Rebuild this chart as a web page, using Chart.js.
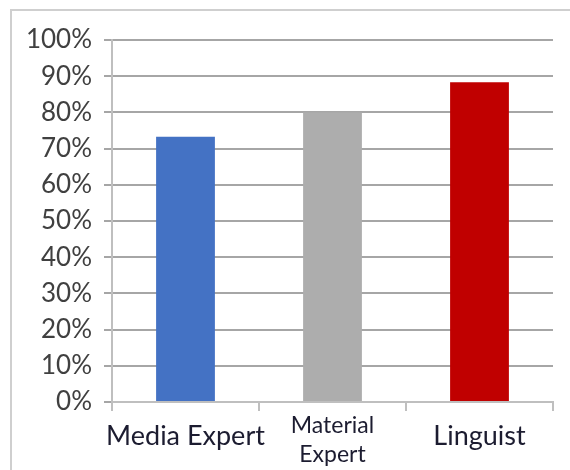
<!DOCTYPE html>
<html>
<head>
<meta charset="utf-8">
<script src="https://cdn.jsdelivr.net/npm/chart.js@4"></script>
<style>
  html, body { margin:0; padding:0; background:#fff; }
  #wrap { position:relative; width:570px; height:470px; }
</style>
</head>
<body>
<div id="wrap"><canvas id="chart" width="570" height="470"></canvas></div>
<script>
// data
var categories = ['Media Expert', ['Material', 'Expert'], 'Linguist'];
var scores = [73.3, 80, 88.3];
var barColors = ['#4472C4', '#ADADAD', '#C00000'];
var yTicks = [0, 10, 20, 30, 40, 50, 60, 70, 80, 90, 100];

// thin grey frame on top and left, as in the screenshot
var framePlugin = {
	id: 'frame',
	beforeDraw: function(chart) {
		var c = chart.ctx;
		c.save();
		c.strokeStyle = '#cfcfcf';
		c.lineWidth = 2;
		c.beginPath();
		c.moveTo(11, 470);
		c.lineTo(11, 10);
		c.lineTo(570, 10);
		c.stroke();
		c.restore();
	}
};

var ctx = document.getElementById('chart').getContext('2d');
var chart = new Chart(ctx, {
	type: 'bar',
	data: {
		labels: categories,
		datasets: [{
			data: scores,
			backgroundColor: barColors,
			borderWidth: 0,
			categoryPercentage: 1,
			barPercentage: 0.4
		}]
	},
	options: {
		responsive: false,
		animation: false,
		layout: { padding: { top: 40, right: 17, bottom: 0, left: 0 } },
		plugins: { legend: { display: false }, tooltip: { enabled: false } },
		scales: {
			x: {
				grid: { drawOnChartArea: false, offset: true, color: '#bfbfbf', lineWidth: 2, tickLength: 9 },
				border: { color: '#bfbfbf', width: 2 },
				ticks: {
					color: '#1c1c30',
					padding: 0,
					maxRotation: 0,
					autoSkip: false,
					// the two-line label sits higher and smaller
					font: function(c) {
						if (c.index === 1) return { family: 'Lato', size: 23, lineHeight: 1.26 };
						return { family: 'Lato', size: 27, lineHeight: 1.89 };
					}
				},
				afterFit: function(s) { s.height = 68; }
			},
			y: {
				min: 0,
				max: 100,
				afterBuildTicks: function(s) { s.ticks = yTicks.map(function(v) { return { value: v }; }); },
				grid: { color: '#a6a6a6', lineWidth: 2, tickLength: 8 },
				border: { color: '#bfbfbf', width: 2 },
				ticks: {
					color: '#404040',
					padding: 12,
					font: { family: 'Lato', size: 26 },
					callback: function(v) { return v + '%'; }
				},
				afterFit: function(s) { s.width = 112; }
			}
		}
	},
	plugins: [framePlugin]
});
</script>
</body>
</html>
